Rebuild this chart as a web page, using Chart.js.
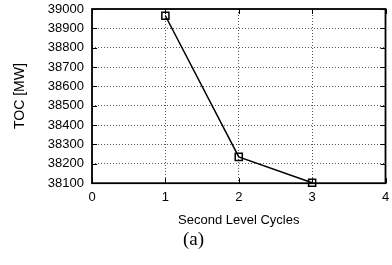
<!DOCTYPE html>
<html>
<head>
<meta charset="utf-8">
<script src="https://cdn.jsdelivr.net/npm/chart.js@4/dist/chart.umd.min.js"></script>
<style>
  html, body { margin: 0; padding: 0; background: #fff; overflow: hidden; }
  #wrap { width: 392px; height: 265px; position: relative; }
</style>
</head>
<body>
<div id="wrap"><canvas id="tocchart"></canvas></div>
<script>
// data
const cycles = [1, 2, 3];
const tocValues = [38965, 38236, 38102];
const xTicks = [0, 1, 2, 3, 4];
const yTicks = [38100, 38200, 38300, 38400, 38500, 38600, 38700, 38800, 38900, 39000];

const sans = "'Liberation Sans', Arial, sans-serif";

// frame + inward tick marks like the matlab export
const framePlugin = {
  id: "frame",
  afterDatasetsDraw(chart) {
    const { ctx, chartArea: a, scales } = chart;
    const tl = 5;
    ctx.save();
    ctx.strokeStyle = "#000";
    ctx.lineWidth = 1;
    ctx.beginPath();
    yTicks.forEach((v) => {
      const y = Math.round(scales.y.getPixelForValue(v)) + 0.5;
      ctx.moveTo(a.left, y); ctx.lineTo(a.left + tl, y);
      ctx.moveTo(a.right, y); ctx.lineTo(a.right - tl, y);
    });
    xTicks.forEach((v) => {
      const x = Math.round(scales.x.getPixelForValue(v)) + 0.5;
      ctx.moveTo(x, a.bottom); ctx.lineTo(x, a.bottom - tl);
      ctx.moveTo(x, a.top); ctx.lineTo(x, a.top + tl);
    });
    ctx.stroke();
    ctx.lineWidth = 1.8;
    ctx.strokeRect(a.left, a.top, a.right - a.left, a.bottom - a.top);
    ctx.restore();
  },
};

new Chart(document.getElementById("tocchart"), {
  type: "line",
  data: {
    datasets: [
      {
        data: cycles.map((c, i) => ({ x: c, y: tocValues[i] })),
        borderColor: "#000",
        borderWidth: 1.5,
        pointStyle: "rect",
        pointRadius: 5,
        pointBorderWidth: 1.5,
        pointBorderColor: "#000",
        pointBackgroundColor: "rgba(0,0,0,0)",
        tension: 0,
        clip: false,
      },
    ],
  },
  options: {
    responsive: true,
    maintainAspectRatio: false,
    animation: false,
    layout: { padding: { left: 0, right: 5, top: 9, bottom: 0 } },
    plugins: {
      legend: { display: false },
      tooltip: { enabled: false },
      title: {
        display: true,
        position: "bottom",
        text: "(a)",
        color: "#000",
        font: { family: "'Liberation Serif', 'Times New Roman', serif", size: 19, weight: "normal" },
        padding: { top: 0, bottom: 14 },
      },
    },
    scales: {
      x: {
        type: "linear",
        min: 0,
        max: 4,
        afterBuildTicks: (s) => { s.ticks = xTicks.map((v) => ({ value: v })); },
        afterFit: (s) => { s.paddingRight = 0; s.paddingLeft = 0; s.paddingTop = 0; s.paddingBottom = 0; s.height = 45; },
        ticks: { color: "#000", padding: 6, autoSkip: false, maxRotation: 0, callback: (v) => String(v), font: { family: sans, size: 13 } },
        grid: { color: "#555", drawTicks: false, lineWidth: 1 },
        border: { display: false, dash: [1, 2] },
        title: {
          display: true,
          text: "Second Level Cycles",
          color: "#000",
          font: { family: sans, size: 13 },
          padding: { top: 0, bottom: 0 },
        },
      },
      y: {
        min: 38100,
        max: 39000,
        afterBuildTicks: (s) => { s.ticks = yTicks.map((v) => ({ value: v })); },
        afterFit: (s) => { s.width = 92; s.paddingTop = 0; s.paddingBottom = 0; },
        ticks: { color: "#000", padding: 8, autoSkip: false, callback: (v) => String(v), font: { family: sans, size: 13 } },
        grid: { color: "#555", drawTicks: false, lineWidth: 1 },
        border: { display: false, dash: [1, 2] },
        title: {
          display: true,
          text: "TOC [MW]",
          color: "#000",
          font: { family: sans, size: 14 },
          padding: { top: 12, bottom: 0 },
        },
      },
    },
  },
  plugins: [framePlugin],
});
</script>
</body>
</html>
